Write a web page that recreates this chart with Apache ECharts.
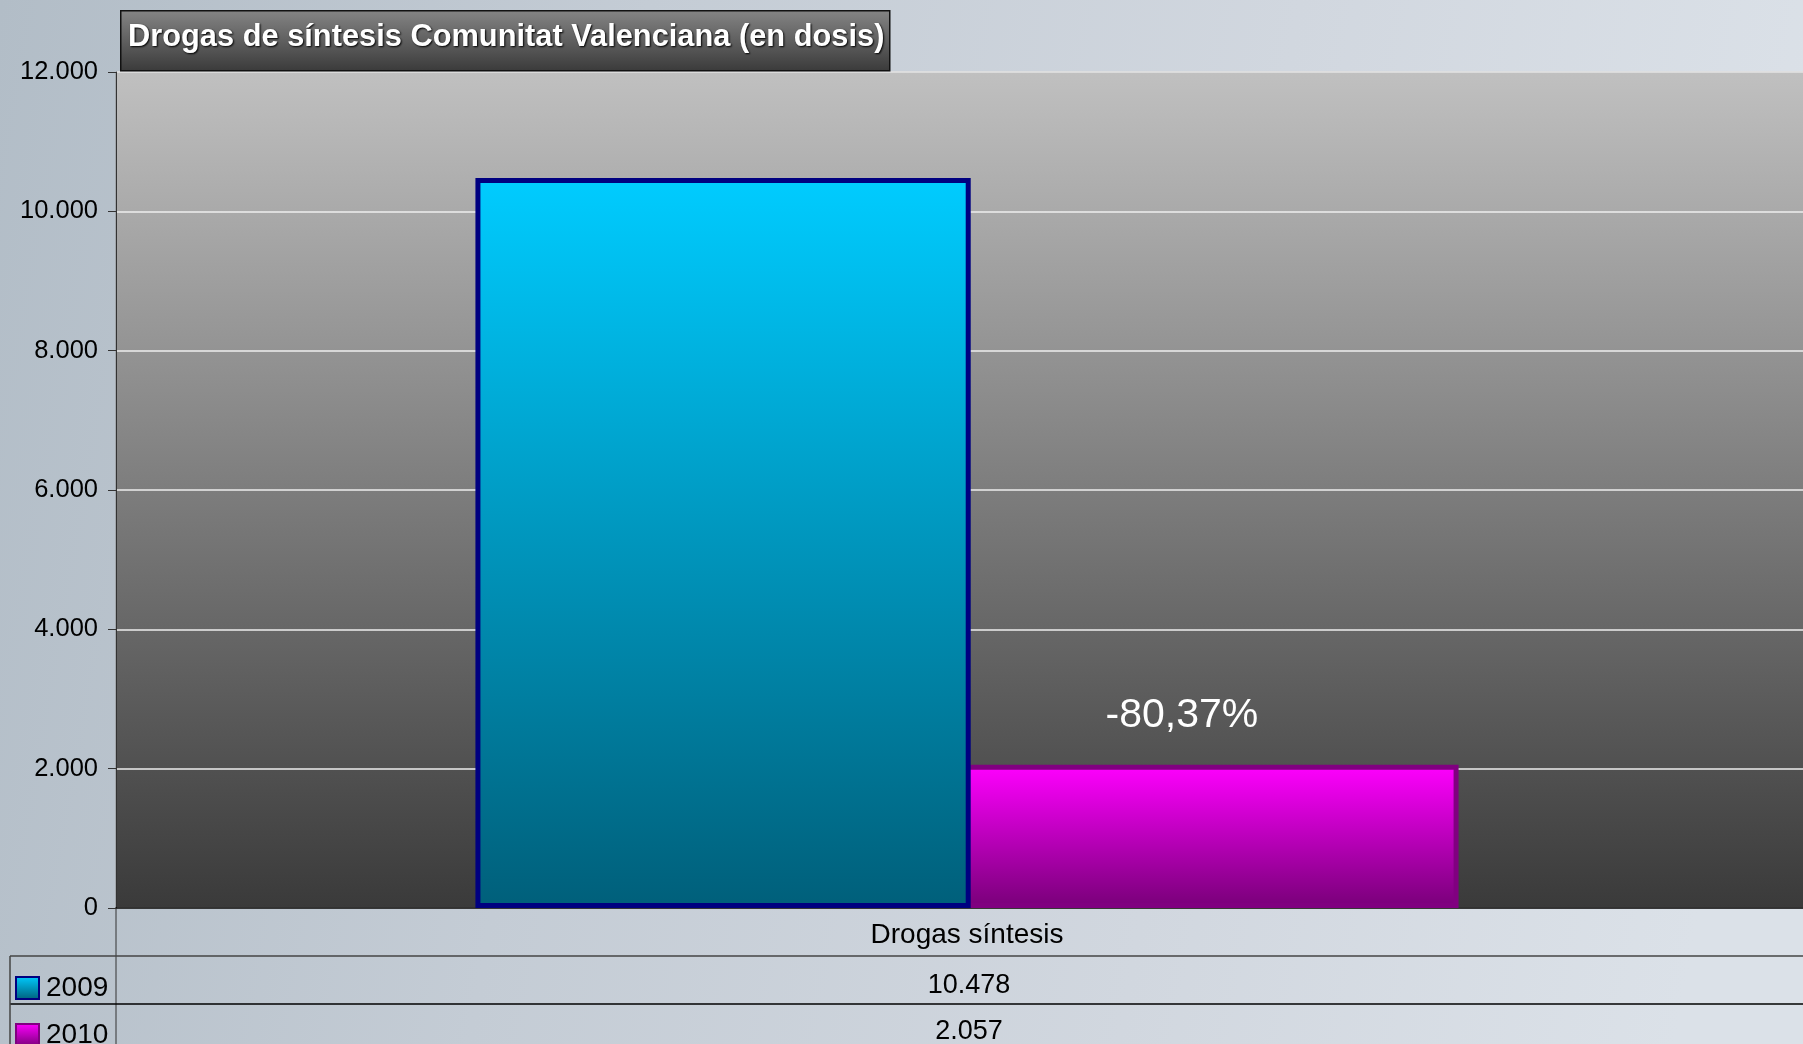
<!DOCTYPE html>
<html><head><meta charset="utf-8">
<script src="https://cdn.jsdelivr.net/npm/echarts@6/dist/echarts.min.js"></script>
<style>html,body{margin:0;padding:0;}#c{width:1803px;height:1044px;}</style>
</head><body><div id="c"></div>
<script>
var titleText = 'Drogas de síntesis Comunitat Valenciana (en dosis)';
var categories = ['Drogas síntesis'];
var seriesNames = ['2009', '2010'];
var values2009 = [10478];
var values2010 = [2057];
var yMax = 12000, yInterval = 2000;

function fmtEs(v){ return String(Math.round(v)).replace(/\B(?=(\d{3})+(?!\d))/g, '.'); }
var change = (values2010[0] - values2009[0]) / values2009[0] * 100;
var changeLabel = change.toFixed(2).replace('.', ',') + '%';

var chart = echarts.init(document.getElementById('c'));
var F = 'Liberation Sans, Arial, sans-serif';
function lg(c0, c1){ return new echarts.graphic.LinearGradient(0,0,0,1,[{offset:0,color:c0},{offset:1,color:c1}]); }
function legendFor(name, top){
  return {orient:'horizontal', left:10, top:top, itemWidth:23, itemHeight:22, icon:'rect',
    data:[name], selectedMode:false,
    textStyle:{fontSize:28, color:'#000', fontFamily:F, padding:[2,0,0,2]}};
}

var option = {
  backgroundColor: new echarts.graphic.LinearGradient(0,0,1,0.3,[
    {offset:0,color:'#b2bdc7'},{offset:0.35,color:'#c4ccd5'},{offset:0.7,color:'#d1d7df'},{offset:1,color:'#dbe1e8'}]),
  animation: false,
  textStyle: {fontFamily: F},
  grid: {left:116, right:-15, top:72, bottom:136, show:true, outerBoundsMode:'none', containLabel:false,
    backgroundColor: lg('#c0c0c0', '#3a3a3a'), borderColor:'#8a8a8a', borderWidth:1},
  legend: [legendFor(seriesNames[0], 969), legendFor(seriesNames[1], 1016)],
  xAxis: {
    type:'category', data:categories,
    axisLine:{lineStyle:{color:'#000', width:1.5}},
    axisTick:{show:false},
    axisLabel:{fontSize:28, color:'#000', margin:13}
  },
  yAxis: {
    type:'value', min:0, max:yMax, interval:yInterval,
    axisLine:{show:true, lineStyle:{color:'#333', width:1}},
    axisTick:{show:true, length:8, lineStyle:{color:'#333'}},
    axisLabel:{fontSize:25.5, color:'#000', margin:18, formatter:fmtEs},
    splitLine:{lineStyle:{color:'#eeeeee', width:1.5}}
  },
  series: [
    {name:seriesNames[0], type:'bar', data:values2009, barWidth:'29.1%', barGap:'-1.5%', z:3,
     itemStyle:{color:lg('#00ccff','#005f7a'), borderColor:'#000080', borderWidth:5}},
    {name:seriesNames[1], type:'bar', data:values2010, barWidth:'29.1%', z:2,
     itemStyle:{color:lg('#ff00ff','#780078'), borderColor:'#800080', borderWidth:5},
     label:{show:true, position:'top', distance:29, offset:[-29,0], formatter:function(){return changeLabel;},
       fontSize:41, color:'#fff', fontFamily:F}}
  ],
  graphic: [
    {type:'rect', left:120, top:10, shape:{width:769, height:60},
     style:{fill:lg('#858585','#3a3a3a'), stroke:'#111', lineWidth:1.5}, z:10},
    {type:'text', left:128, top:22, z:11,
     style:{text:titleText, fill:'#fff', font:'bold 30.8px '+F, textShadowColor:'#000', textShadowBlur:2, textShadowOffsetX:1, textShadowOffsetY:1}},
    {type:'line', shape:{x1:116, y1:908, x2:116, y2:1044}, style:{stroke:'#333', lineWidth:1}, z:5},
    {type:'line', shape:{x1:10, y1:956, x2:1803, y2:956}, style:{stroke:'#444', lineWidth:1.5}, z:5},
    {type:'line', shape:{x1:10, y1:1004, x2:1803, y2:1004}, style:{stroke:'#000', lineWidth:1.5}, z:5},
    {type:'line', shape:{x1:10, y1:956, x2:10, y2:1044}, style:{stroke:'#444', lineWidth:1.5}, z:5},
    {type:'text', x:969, y:986, z:6, style:{text:fmtEs(values2009[0]), fill:'#000', font:'27px '+F, align:'center', verticalAlign:'middle'}},
    {type:'text', x:969, y:1032, z:6, style:{text:fmtEs(values2010[0]), fill:'#000', font:'27px '+F, align:'center', verticalAlign:'middle'}}
  ]
};
chart.setOption(option);
</script></body></html>
